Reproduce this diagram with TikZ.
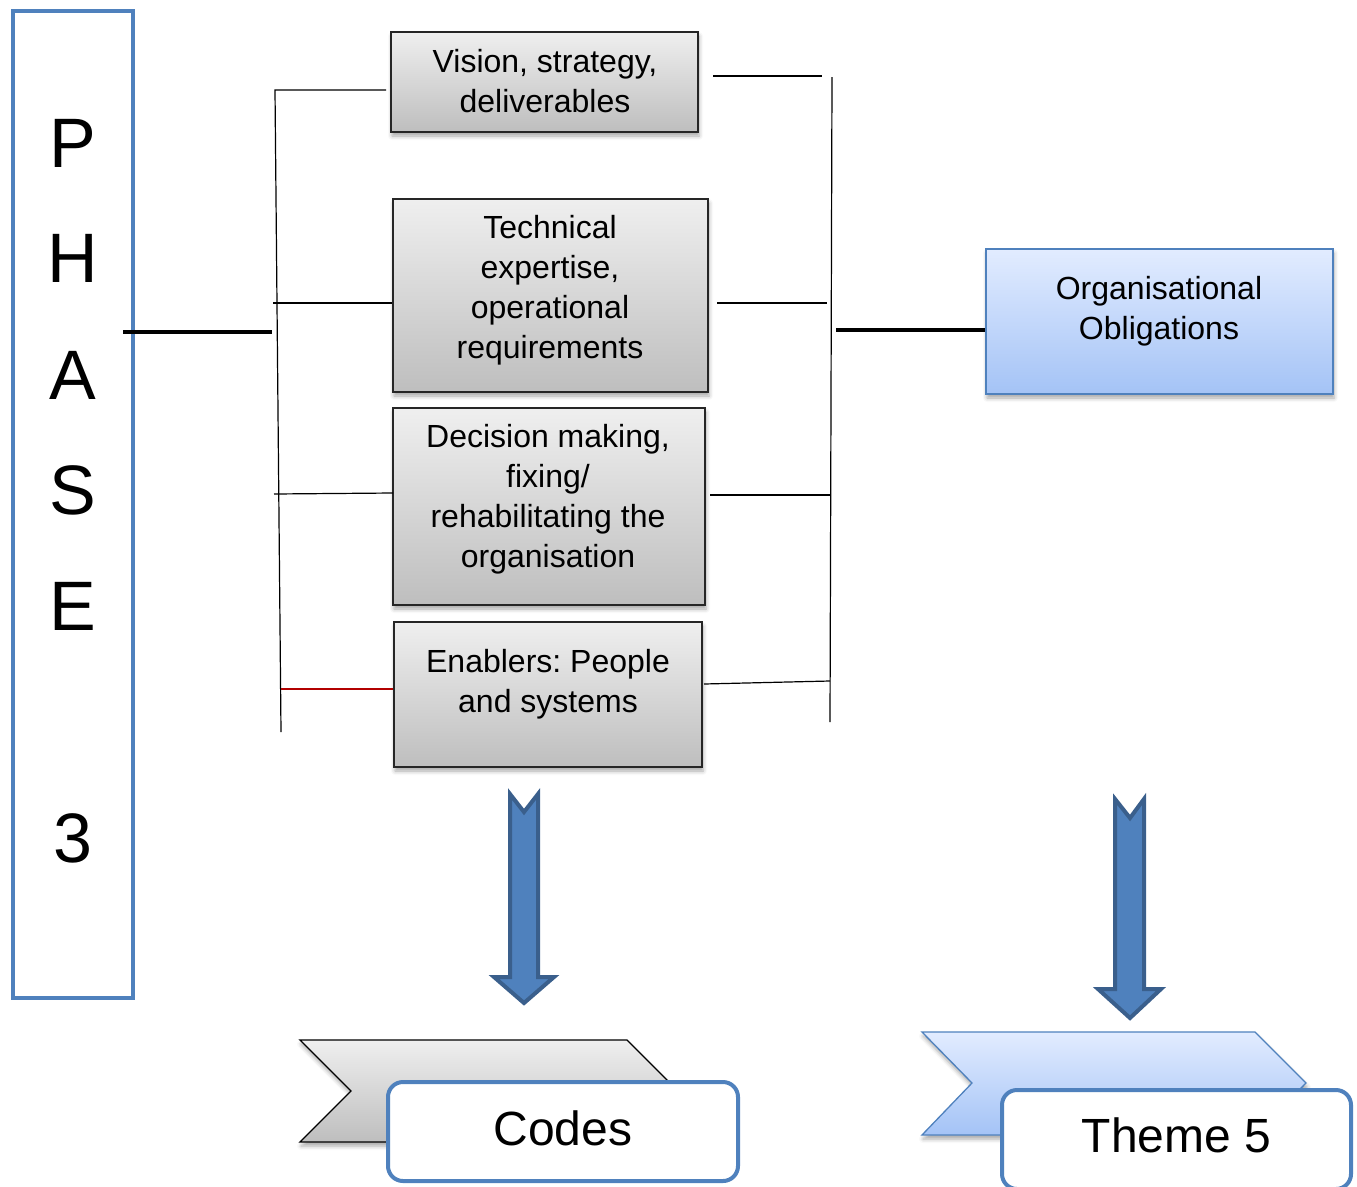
\documentclass[tikz,border=0pt]{standalone}
\usepackage{fontspec}
\setmainfont{Liberation Sans}
\usetikzlibrary{shadows.blur}
\definecolor{accent}{HTML}{4F81BD}
\definecolor{arrowedge}{HTML}{3A5F8C}
\definecolor{greytop}{HTML}{EFEFEF}
\definecolor{greybot}{HTML}{BEBEBE}
\definecolor{bluetop}{HTML}{E2ECFF}
\definecolor{bluebot}{HTML}{A4C3F6}
\tikzset{
  softshadow/.style={blur shadow={shadow xshift=1pt,shadow yshift=-4pt,shadow blur radius=4pt,shadow opacity=35}},
  greybox/.style={draw=black!85, line width=1.4pt, top color=greytop, bottom color=greybot, softshadow, inner sep=0pt},
  bluebox/.style={draw=accent, line width=1.4pt, top color=bluetop, bottom color=bluebot, softshadow, inner sep=0pt},
  boxtext/.style={align=center, font=\fontsize{32}{40}\selectfont\frenchspacing, inner sep=0pt},
  letter/.style={font=\fontsize{70}{70}\selectfont, inner sep=0pt},
  link/.style={line width=1.2pt, black},
  thick link/.style={line width=4pt, black},
  labelbox/.style={draw=accent, line width=4pt, fill=white, rounded corners=15pt, inner sep=0pt, font=\fontsize{48}{48}\selectfont},
  downarrow/.style={draw=arrowedge, line width=4pt, fill=accent, line join=miter},
}
\begin{document}
\begin{tikzpicture}[x=1pt,y=-1pt]
\useasboundingbox (0,0) rectangle (1357,1186);

% Phase column
\node[draw=accent, line width=4pt, minimum width=120pt, minimum height=987pt, inner sep=0pt] (phase) at (73,504.5) {};
\node[letter] (lp) at (73,143) {P};
\node[letter] (lh) at (73,258) {H};
\node[letter] (la) at (73,375) {A};
\node[letter] (ls) at (73,490) {S};
\node[letter] (le) at (73,606) {E};
\node[letter] (l3) at (73,838) {3};

% Factor boxes
\node[greybox, minimum width=307pt, minimum height=100pt] (vis) at (544.5,82) {};
\node[greybox, minimum width=315pt, minimum height=193pt] (tech) at (550.5,295.5) {};
\node[greybox, minimum width=312pt, minimum height=197pt] (dec) at (549,506.5) {};
\node[greybox, minimum width=308pt, minimum height=145pt] (enab) at (548,694.5) {};
\node[bluebox, minimum width=347pt, minimum height=145pt] (org) at (1159.5,321.5) {};

\node[boxtext] (tvis) at (545,81.5) {Vision, strategy,\\deliverables};
\node[boxtext] (ttech) at (550,290) {Technical\\expertise,\\operational\\requirements};
\node[boxtext] (tdec) at (548,499) {Decision making,\\fixing/\\rehabilitating the\\organisation};
\node[boxtext] (tenab) at (548,684) {Enablers: People\\and systems};
\node[boxtext] (torg) at (1159,311.5) {Organisational\\Obligations};

% Left bracket
\coordinate (lbtop) at (275,90);
\coordinate (lbbot) at (281,732);
\coordinate (lvis) at (386,90);
\coordinate (ltech0) at (273,303);
\coordinate (ltech1) at (392,303);
\coordinate (ldec0) at (274,494);
\coordinate (ldec1) at (393,493);
\coordinate (lenab0) at (281,689);
\coordinate (lenab1) at (393,689);
\draw[link] (lvis) -- (lbtop) -- (lbbot);
\draw[link] (ltech0) -- (ltech1);
\draw[link] (ldec0) -- (ldec1);
\draw[line width=1.2pt, red!70!black] (lenab0) -- (lenab1);
\coordinate (phout) at (123,332);
\coordinate (lbmid) at (272,332);
\draw[thick link] (phout) -- (lbmid);

% Right bracket
\coordinate (rbtop) at (832,77);
\coordinate (rbbot) at (830,722);
\draw[link] (rbtop) -- (rbbot);
\coordinate (rvis0) at (713,76);
\coordinate (rvis1) at (822,76);
\coordinate (rtech0) at (717,303);
\coordinate (rtech1) at (827,303);
\coordinate (rdec0) at (710,495);
\coordinate (rdec1) at (831,495);
\coordinate (renab0) at (704,684);
\coordinate (renab1) at (830,681);
\draw[link] (rvis0) -- (rvis1);
\draw[link] (rtech0) -- (rtech1);
\draw[link] (rdec0) -- (rdec1);
\draw[link] (renab0) -- (renab1);
\coordinate (rbmid) at (836,330);
\draw[thick link] (rbmid) -- (org.west |- rbmid);

% Block arrows
\draw[downarrow] (510,794) -- (524,812) -- (538,794) -- (538,977) -- (554,977) -- (524,1003) -- (494,977) -- (510,977) -- cycle;
\draw[downarrow] (1115,799) -- (1130,818) -- (1144,799) -- (1144,989) -- (1161,989) -- (1130,1018) -- (1098,989) -- (1115,989) -- cycle;

% Chevrons with labels
\fill[greytop, top color=greytop, bottom color=greybot, draw=black, line width=1.3pt, softshadow]
  (300,1040) -- (627,1040) -- (678,1091) -- (627,1142) -- (300,1142) -- (351,1091) -- cycle;
\node[labelbox, minimum width=350pt, minimum height=99pt, text depth=7pt] (codes) at (563,1131.5) {Codes};

\fill[bluetop, top color=bluetop, bottom color=bluebot, draw=accent, line width=1.3pt, softshadow]
  (922,1032) -- (1255,1032) -- (1306,1083) -- (1255,1135) -- (922,1135) -- (972,1083) -- cycle;
\node[labelbox, minimum width=349pt, minimum height=99pt, text depth=9pt] (theme) at (1176.5,1139.5) {Theme 5};
\end{tikzpicture}
\end{document}
